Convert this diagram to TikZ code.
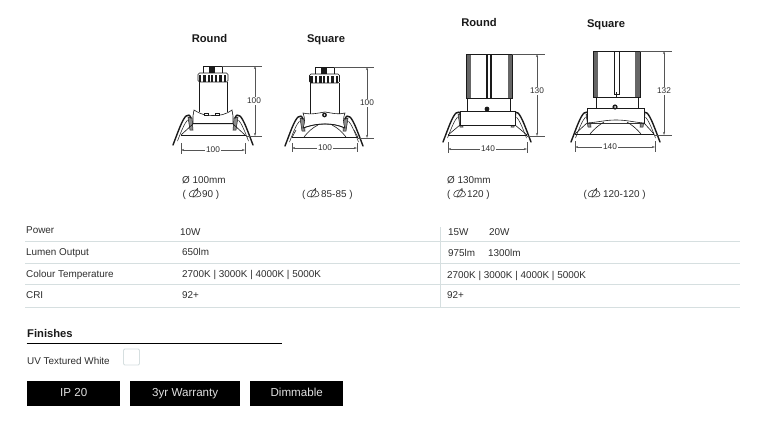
\documentclass[tikz,border=0pt]{standalone}
\usetikzlibrary{arrows.meta}
\usepackage{fontspec}
\setmainfont{Liberation Sans}
\definecolor{ink}{HTML}{2E2E2E}
\definecolor{dark}{HTML}{1A1A1A}
\definecolor{rulec}{HTML}{D6DFE0}
\definecolor{dimc}{HTML}{555555}
\newcommand{\spring}[3]{%
  \begin{scope}[shift={(#1,#2)},xscale=#3]
    \draw[fill=black!45,draw=dark,line width=.5pt] (15,-28) -- (19,-27) -- (20,-15) -- (17,-15) -- cycle;
    \draw[draw=dark,line width=1.4pt,line cap=round] (0,0) .. controls (5,-13) and (9,-25) .. (13,-29) .. controls (15,-31) and (17,-30) .. (18,-27);
    \draw[draw=dark,line width=.5pt] (4.5,-4) .. controls (8,-13) and (11,-21) .. (14.5,-25);
  \end{scope}}
\newcommand{\cuticon}[2]{%
  \begin{scope}[shift={(#1,#2)}]
    \draw[ink,line width=.55pt] (-5.8,1) .. controls (-5,-3) and (-1,-3.6) .. (1,-3.4) .. controls (4,-3.4) and (6.2,-1) .. (6,1) .. controls (5.8,3.4) and (2,3.6) .. (0,3.4) .. controls (-3,3.6) and (-6.2,3.4) .. (-5.8,1) -- cycle;
    \draw[ink,line width=.55pt] (-2,3.6) .. controls (-2.4,0) and (1,-4) .. (2.6,-5) .. controls (3.4,-2) and (2.6,2) .. (-2,3.6);
  \end{scope}}
\tikzset{
  txt/.style={font=\fontsize{9.9}{11}\selectfont,text=ink,inner sep=0pt,anchor=base west},
  head/.style={font=\fontsize{11.2}{12}\selectfont\bfseries,text=dark,inner sep=0pt,anchor=base},
  dimlab/.style={font=\fontsize{8.3}{9}\selectfont,text=ink,inner sep=1.2pt,fill=white},
  dimline/.style={draw=dimc,line width=.5pt},
  dimarrow/.style={draw=dimc,line width=.5pt,{Stealth[length=3pt,width=2pt]}-{Stealth[length=3pt,width=2pt]}},
  rowrule/.style={draw=rulec,line width=.9pt},
  lampline/.style={draw=dark,line width=.6pt},
  heavy/.style={draw=dark,line width=1.1pt},
  badge/.style={fill=black,text=white!88!black,font=\fontsize{11.6}{12}\selectfont,minimum height=25pt,inner sep=0pt,text height=8.5pt,text depth=2.5pt,anchor=north west},
  greystripe/.style={fill=black!60,draw=none},
}
\begin{document}
\begin{tikzpicture}[x=1pt,y=-1pt]
\useasboundingbox (0,0) rectangle (760,423);
\fill[white] (0,0) rectangle (760,423);

% headings
\node[head] (h1) at (209.5,42.8) {Round};
\node[head] (h2) at (326,42.8) {Square};
\node[head] (h3) at (479,26) {Round};
\node[head] (h4) at (606,27.8) {Square};

% ---------- lamp 1
\spring{173}{145}{1}
\spring{253}{145}{-1}
\draw[lampline] (193,124) -- (181,135);
\draw[lampline] (233,124) -- (245,135);
\draw[heavy,line width=1pt] (181,135.5) -- (246,135.5);
\draw[lampline,fill=white] (194,110) .. controls (202,115) and (206,115.5) .. (213,115.5) .. controls (220,115.5) and (225,115) .. (232,110) -- (233,116) -- (233,123.7) -- (193,123.7) -- (193,116) -- cycle;
\draw[heavy,line width=1pt] (193,123.7) -- (233,123.7);
\draw[lampline] (199,82) -- (199,112);
\draw[lampline] (227,82) -- (227,112);
\foreach \bx in {206,217}{\draw[lampline,fill=white] (\bx-2,115) rectangle (\bx+2,113);}
\draw[lampline,fill=white] (203,66) rectangle (222,73);
\fill[dark] (209,66) rectangle (215,73);
\draw[lampline,fill=white,rounded corners=1.5pt] (198,73) rectangle (228,82);
\foreach \sx in {200,204.5,209,212,216,220.5,225}{\fill[dark] (\sx-1.4,74.5) rectangle (\sx+1.4,82);}
% dims 1
\draw[dimline] (222,66) -- (262,66);
\draw[dimline] (246,136) -- (262,136);
\draw[dimarrow] (255,66) -- (255,136);
\node[dimlab] (d1v) at (254,101) {100};
\draw[dimline] (181,143) -- (181,154);
\draw[dimline] (245,143) -- (245,154);
\draw[dimarrow] (181,150) -- (245,150);
\node[dimlab] (d1h) at (213,150) {100};

% ---------- lamp 2
\spring{285}{146}{1}
\spring{363}{146}{-1}
\draw[heavy,line width=1pt] (292,137.5) -- (358,137.5);
\draw[lampline] (292,137.5) -- (296,130);
\draw[lampline] (358,137.5) -- (354,130);
\draw[lampline,fill=white] (303,113) .. controls (312,115) and (318,113) .. (325,112) .. controls (332,113) and (338,115) .. (345,113) .. controls (343,118) and (343,123) .. (345,128) .. controls (338,125) and (332,124) .. (325,124) .. controls (318,124) and (312,125) .. (303,128) .. controls (305,123) and (305,118) .. (303,113) -- cycle;
\draw[heavy,line width=.8pt] (303,128) .. controls (312,125) and (318,124) .. (325,124) .. controls (332,124) and (338,125) .. (345,128);
\draw[lampline] (304,137) .. controls (308,132) and (312,128) .. (318,125);
\draw[lampline] (346,137) .. controls (342,132) and (338,128) .. (332,125);
\draw[lampline] (310,83) -- (310,114);
\draw[lampline] (339,83) -- (339,114);
\fill[dark] (324.5,115) circle (2.4);
\fill[white] (324.5,115) circle (.9);
\draw[lampline,fill=white] (315,67) rectangle (334,74);
\fill[dark] (321,67) rectangle (327,74);
\draw[lampline,fill=white,rounded corners=1.5pt] (309.5,74) rectangle (339.5,83);
\foreach \sx in {311.5,316,320.5,324,328,332.5,337}{\fill[dark] (\sx-1.4,75.5) rectangle (\sx+1.4,83);}
% dims 2
\draw[dimline] (334,67) -- (374,67);
\draw[dimline] (358,138) -- (374,138);
\draw[dimarrow] (367,67) -- (367,138);
\node[dimlab] (d2v) at (367,103) {100};
\draw[dimline] (292,143) -- (292,152);
\draw[dimline] (357,143) -- (357,152);
\draw[dimarrow] (292,148) -- (357,148);
\node[dimlab] (d2h) at (325,148) {100};

% ---------- lamp 3
\spring{443}{142}{1}
\spring{531}{142}{-1}
\draw[heavy,line width=1.3pt] (448,135.5) -- (527,135.5);
\draw[lampline] (460,125) -- (448,135);
\draw[lampline] (515,125) -- (527,135);
\draw[lampline,fill=white] (460,111) -- (515,111) -- (515,125) -- (460,125) -- cycle;
\draw[heavy,line width=.8pt] (460,125) -- (515,125);
\draw[lampline] (467.5,98) -- (467.5,111);
\draw[lampline] (510,98) -- (510,111);
\fill[dark] (487,109) circle (2.4);
\draw[lampline,fill=white] (466.5,54) rectangle (512,98);
\fill[greystripe] (467,54.5) rectangle (470.5,97.5);
\fill[greystripe] (507.5,54.5) rectangle (511.5,97.5);
\fill[dark] (486,54.5) rectangle (488,97.5);
\fill[dark] (490,54.5) rectangle (491.5,97.5);
% dims 3
\draw[dimline] (512,54) -- (545,54);
\draw[dimline] (527,136) -- (545,136);
\draw[dimarrow] (537,54) -- (537,136);
\node[dimlab] (d3v) at (537,91) {130};
\draw[dimline] (448,142) -- (448,153);
\draw[dimline] (527,142) -- (527,153);
\draw[dimarrow] (448,149) -- (527,149);
\node[dimlab] (d3h) at (488,149) {140};

% ---------- lamp 4
\spring{571}{142}{1}
\spring{660}{142}{-1}
\draw[lampline,line width=.8pt] (575,134.5) -- (654,134.5);
\draw[lampline] (575,134) -- (587,123);
\draw[lampline] (654,134) -- (644,123);
\draw[lampline,fill=white] (587,108) -- (644,108) -- (644,123) -- (587,123) -- cycle;
\draw[lampline,fill=white] (587,123) .. controls (600,122) and (605,120) .. (616,120) .. controls (627,120) and (632,122) .. (644,123);
\draw[lampline] (590,134) .. controls (594,129) and (599,125) .. (604,122);
\draw[lampline] (641,134) .. controls (637,129) and (632,125) .. (627,122);
\draw[lampline] (596,97) -- (596,108);
\draw[lampline] (638,97) -- (638,108);
\fill[dark] (615,107) circle (2.6);
\fill[white] (615,107) circle (1);
\draw[lampline,fill=white] (593,51) rectangle (640,97);
\fill[greystripe] (593.5,51.5) rectangle (598,96.5);
\fill[greystripe] (635,51.5) rectangle (639.5,96.5);
\draw[lampline] (614,51) -- (614,94) -- (619,94) -- (619,51);
\draw[lampline] (616.5,92) -- (616.5,97);
% dims 4
\draw[dimline] (640,51) -- (672,51);
\draw[dimline] (654,135) -- (672,135);
\draw[dimarrow] (664,51) -- (664,135);
\node[dimlab] (d4v) at (664,91) {132};
\draw[dimline] (575,141) -- (575,152);
\draw[dimline] (655,141) -- (655,152);
\draw[dimarrow] (575,147) -- (655,147);
\node[dimlab] (d4h) at (610,147) {140};

% ---------- cut-out captions
\node[txt] (c1) at (182,183.3) {Ø 100mm};
\node[txt] (c1a) at (182.5,197.7) {(};
\cuticon{195}{193.5}
\node[txt] (c1b) at (202,197.7) {90 )};
\node[txt] (c2a) at (302,197.7) {(};
\cuticon{313}{193.5}
\node[txt] (c2b) at (321,197.7) {85-85 )};
\node[txt] (c3) at (447,183.3) {Ø 130mm};
\node[txt] (c3a) at (447,197.7) {(};
\cuticon{459.5}{193.5}
\node[txt] (c3b) at (467,197.7) {120 )};
\node[txt] (c4a) at (583.5,197.7) {(};
\cuticon{594}{193.5}
\node[txt] (c4b) at (603,197.7) {120-120 )};

% ---------- table
\foreach \ry in {241,263.5,284.5,307}{\draw[rowrule] (25,\ry) -- (740,\ry);}
\draw[rowrule] (440,227) -- (440,307);
\node[txt] (r1) at (26,233.3) {Power};
\node[txt] (r2) at (26,255.7) {Lumen Output};
\node[txt] (r3) at (26,277.7) {Colour Temperature};
\node[txt] (r4) at (26,298.3) {CRI};
\node[txt] (v1) at (180,235) {10W};
\node[txt] (v2) at (182,255.7) {650lm};
\node[txt] (v3) at (182,277.7) {2700K | 3000K | 4000K | 5000K};
\node[txt] (v4) at (182,298.3) {92+};
\node[txt] (w1a) at (448,235.5) {15W};
\node[txt] (w1b) at (489,235.5) {20W};
\node[txt] (w2a) at (448,256) {975lm};
\node[txt] (w2b) at (488,256) {1300lm};
\node[txt] (w3) at (447,278) {2700K | 3000K | 4000K | 5000K};
\node[txt] (w4) at (447,298.3) {92+};

% ---------- finishes
\node[head,anchor=base west] (fin) at (27,337) {Finishes};
\draw[draw=black,line width=1.5pt] (26.5,343.5) -- (282,343.5);
\node[txt] (uv) at (27,364) {UV Textured White};
\draw[draw=rulec,line width=.9pt,rounded corners=1.2pt] (123.5,349) rectangle (139.5,365);
\node[badge,minimum width=93pt] (b1) at (27,381) {IP 20};
\node[badge,minimum width=110pt] (b2) at (130,381) {3yr Warranty};
\node[badge,minimum width=93pt] (b3) at (250,381) {Dimmable};
\end{tikzpicture}
\end{document}
